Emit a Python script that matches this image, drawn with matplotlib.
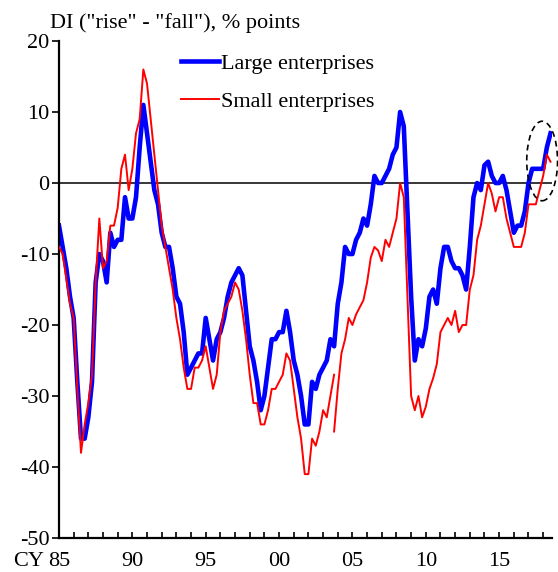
"""Tankan-style DI chart: large vs small enterprises, quarterly, 1985-2018."""
import numpy as np
import matplotlib
matplotlib.use("Agg")
import matplotlib.pyplot as plt
from matplotlib.patches import Ellipse

plt.rcParams["font.family"] = ["Liberation Serif", "DejaVu Serif"]
plt.rcParams["axes.unicode_minus"] = False

# quarterly DI values, first point = 1985 Q1
start_year = 1985
large = [-6, -9, -12, -16, -19, -28, -36, -36, -33, -28,
         -14, -10, -11, -14, -7, -9, -8, -8, -2, -5,
         -5, -2, 5, 11, 7, 3, -1, -3, -7, -9,
         -9, -12, -16, -17, -21, -27, -26, -25, -24, -24,
         -19, -22, -25, -22, -21, -19, -16, -14, -13, -12,
         -13, -18, -23, -25, -28, -32, -30, -26, -22, -22,
         -21, -21, -18, -21, -25, -27, -30, -34, -34, -28,
         -29, -27, -26, -25, -22, -23, -17, -14, -9, -10,
         -10, -8, -7, -5, -6, -3, 1, 0, 0, 1,
         2, 4, 5, 10, 8, -4, -16, -25, -22, -23,
         -20.5, -16, -15, -17, -12, -9, -9, -11, -12, -12,
         -13, -15, -9, -2, 0, -1, 2.5, 3, 1, 0,
         0, 1, -1, -4, -7, -6, -6, -4, 0, 2,
         2, 2, 2, 5, 7]
# small enterprises: old survey basis up to 2003 Q4, new basis from 2003 Q4
break_index = 75
small_old = [-9, -10, -13.5, -17, -19, -29, -38, -34, -31, -27,
             -14, -5, -12, -11, -6, -6, -3.5, 2, 4, -1,
             2, 7, 9, 16, 14, 9, 4, -1, -6, -9,
             -12, -15, -19, -22, -26, -29, -29, -26, -26, -25,
             -23, -26, -29, -27, -21, -18, -17, -16, -14, -15,
             -18, -22, -27, -31, -31, -34, -34, -32, -29, -29,
             -28, -27, -24, -25, -29, -33, -36, -41, -41, -36,
             -37, -35, -32, -33, -30, -27]
small_new = [-35, -29, -24, -22, -19, -20, -18.5, -17.5, -16.5, -14,
             -10.5, -9, -9.5, -11, -8, -9, -7, -5, 0, -2,
             -16, -30, -32, -30, -33, -31.5, -29, -27.5, -25.5, -21,
             -20, -19, -20, -18, -21, -20, -20, -15, -13, -8,
             -6, -3, 0, -1.5, -4, -2, -2, -5, -7, -9,
             -9, -9, -7, -3, -3, -3, -1, 1, 4, 3]

tick_years = [1985, 1990, 1995, 2000, 2005, 2010, 2015]
tick_labels = ["85", "90", "95", "00", "05", "10", "15"]

x_large = start_year + np.arange(len(large)) / 4
x_old = start_year + np.arange(len(small_old)) / 4
x_new = start_year + (break_index + np.arange(len(small_new))) / 4

fig = plt.figure(figsize=(5.58, 5.72), dpi=100)
ax = fig.add_axes([0.1057, 0.0594, 0.8835, 0.8689])

ax.axhline(0, color="black", linewidth=1.1, zorder=1)
ax.plot(x_large, large, color="#0000FF", linewidth=3.3, label="Large enterprises",
        zorder=2)
ax.plot(x_old, small_old, color="#FF0000", linewidth=1.4, label="Small enterprises",
        zorder=3)
ax.plot(x_new, small_new, color="#FF0000", linewidth=1.4, zorder=3)

ax.add_patch(Ellipse((2017.93, 3.1), 2.1, 11.2, fill=False, edgecolor="black",
                     linewidth=1.2, linestyle=(0, (3.5, 2.5)), clip_on=False,
                     zorder=4))

ax.set_xlim(1985, 2018.6)
ax.set_ylim(-50, 20)
ax.set_yticks(range(-50, 21, 10))
ax.set_xticks(tick_years)
ax.set_xticklabels(tick_labels)
ax.set_xticks(range(1986, 2019), minor=True)
ax.tick_params(axis="x", which="both", direction="in", length=4.5, width=1.2,
               labelsize=16, pad=10)
ax.tick_params(axis="y", direction="out", length=5, width=1.2, labelsize=16, pad=2)
for s in ("top", "right"):
    ax.spines[s].set_visible(False)
for s in ("left", "bottom"):
    ax.spines[s].set_linewidth(1.6)

fig.text(13 / 558, 1 - 566 / 572, "CY", fontsize=16, ha="left", va="baseline")
fig.text(50 / 558, 1 - 28 / 572, 'DI ("rise" - "fall"), % points', fontsize=16,
         ha="left", va="baseline")

ax.legend(loc="upper left", bbox_to_anchor=(0.229, 0.993), frameon=False,
          fontsize=16, handlelength=1.72, handletextpad=0.1, labelspacing=0.78,
          borderaxespad=0)

fig.savefig("out.png", dpi=100)
